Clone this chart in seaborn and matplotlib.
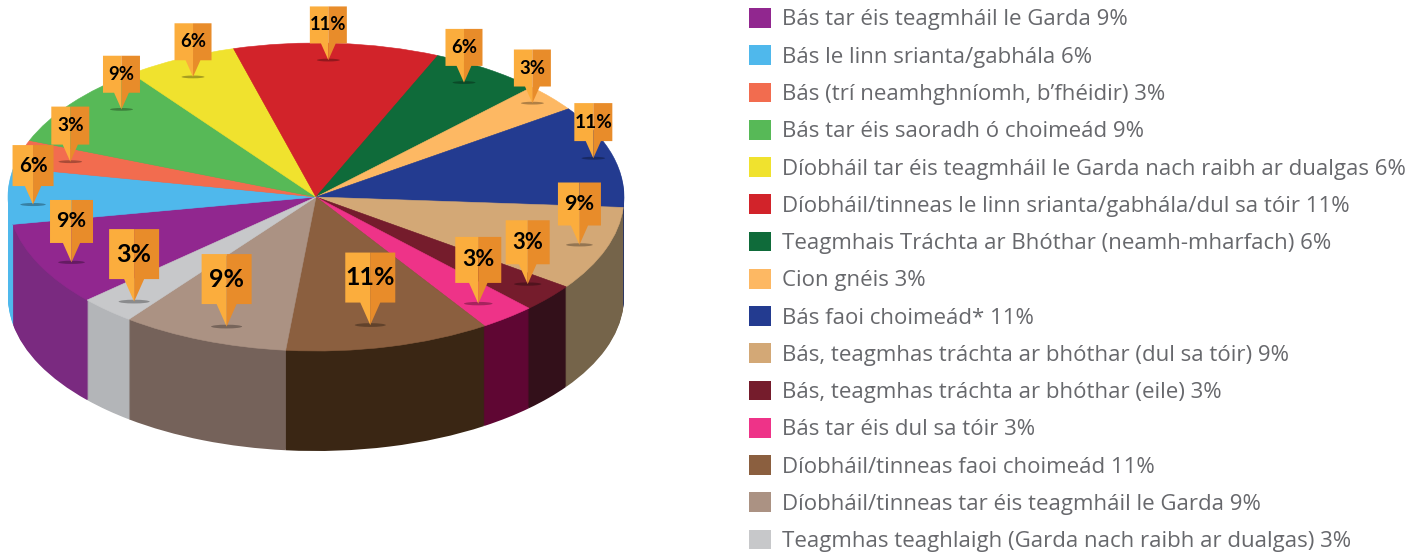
import numpy as np
import matplotlib
matplotlib.use("Agg")
import matplotlib.pyplot as plt
from matplotlib.patches import Patch
from matplotlib.path import Path
import seaborn as sns

labels = [
    "Bás tar éis teagmháil le Garda",
    "Bás le linn srianta/gabhála",
    "Bás (trí neamhghníomh, b’fhéidir)",
    "Bás tar éis saoradh ó choimeád",
    "Díobháil tar éis teagmháil le Garda nach raibh ar dualgas",
    "Díobháil/tinneas le linn srianta/gabhála/dul sa tóir",
    "Teagmhais Tráchta ar Bhóthar (neamh-mharfach)",
    "Cion gnéis",
    "Bás faoi choimeád*",
    "Bás, teagmhas tráchta ar bhóthar (dul sa tóir)",
    "Bás, teagmhas tráchta ar bhóthar (eile)",
    "Bás tar éis dul sa tóir",
    "Díobháil/tinneas faoi choimeád",
    "Díobháil/tinneas tar éis teagmháil le Garda",
    "Teagmhas teaghlaigh (Garda nach raibh ar dualgas)",
]
values = [9, 6, 3, 9, 6, 11, 6, 3, 11, 9, 3, 3, 11, 9, 3]

top_colours = ["#91278F", "#4FB8EC", "#F26C4F", "#57B957", "#F0E22E",
               "#D2232A", "#0F6B3A", "#FDB863", "#233B90", "#D3A876",
               "#751C2C", "#EE3388", "#8B5F3F", "#AB9283", "#C7C8CA"]
side_colours = ["#7A2A80", "#4FB8EC", "#B04A35", "#3C8A3C", "#B0A620",
                "#90181D", "#0A4A28", "#B08545", "#1A2C6C", "#75644A",
                "#33101A", "#5F0633", "#3A2614", "#75625A", "#B3B5B8"]

# how far out along its slice each pin stands, and a small turn off the middle
pin_reach = [.90, .92, .83, .85, .876, .89, .885, .93, .935, .91, .89, .87, .85, .89, .90]
pin_turn = [2, 3.4, .2, -4.6, 1, 1.3, 1, .7, .1, -.2, 1.5, -1.2, -1.8, 2.5, 1.7]
pin_width = [43, 41, 38, 37, 37, 37, 37, 37, 38, 43, 44, 46, 50, 50, 50]

LIGHT = "#FBAD3D"
DARK = "#E88C2A"
CX, CY, R, DEPTH = 316, 197, 308, 100

sns.set_theme(style="white")
plt.rcParams["font.family"] = ["Open Sans", "DejaVu Sans"]

fig = plt.figure(figsize=(14.25, 5.53), dpi=100)
ax = fig.add_axes([0, 0, 624 / 1425, 1])

# y runs at twice the pixel scale so the round pie comes out flattened
for off in range(DEPTH, 0, -1):
    ax.pie(values, colors=side_colours, startangle=222, counterclock=False,
           radius=R, center=(CX, -(CY + off) * 2),
           wedgeprops={"linewidth": 0})
wedges, _ = ax.pie(values, colors=sns.color_palette(top_colours), startangle=222,
                   counterclock=False, radius=R, center=(CX, -CY * 2),
                   wedgeprops={"linewidth": 0.4})
for w in wedges:
    w.set_edgecolor(w.get_facecolor())
ax.set_xlim(0, 624)
ax.set_ylim(-1106, 0)
ax.set_aspect("auto")

mids = np.radians([(w.theta1 + w.theta2) / 2 + t for w, t in zip(wedges, pin_turn)])
tip_x = CX + R * np.array(pin_reach) * np.cos(mids)
tip_y = -CY * 2 + R * np.array(pin_reach) * np.sin(mids)
widths = np.array(pin_width, dtype=float)

# pin markers have their origin at the tip; widths are in pixels
left_half = Path([(0, 0), (-.2, .45), (-.5, .45), (-.5, 1.45), (0, 1.45), (0, 0)])
right_half = Path([(0, 0), (.2, .45), (.5, .45), (.5, 1.45), (0, 1.45), (0, 0)])
circle = Path.unit_circle()
shadow = Path(circle.vertices * [1, .12], circle.codes)

px = 72 / fig.dpi
sns.scatterplot(x=tip_x, y=tip_y, s=(widths * .62 * px) ** 2, marker=shadow, color="black",
                alpha=.3, linewidth=0, ax=ax, legend=False, zorder=3)
sizes = (widths * px * 2.9) ** 2
sns.scatterplot(x=tip_x, y=tip_y, s=sizes, marker=left_half, color=LIGHT,
                linewidth=0, ax=ax, legend=False, zorder=4)
sns.scatterplot(x=tip_x, y=tip_y, s=sizes, marker=right_half, color=DARK,
                linewidth=0, ax=ax, legend=False, zorder=4)

for x, y, w, v in zip(tip_x, tip_y, widths, values):
    ax.annotate(f"{v}%", (x, y), xytext=(0, .95 * w * px), textcoords="offset points",
                ha="center", va="center", fontsize=w * .36, fontweight="bold",
                color="black", family=["Lato", "DejaVu Sans"], zorder=5)

handles = [Patch(facecolor=c, linewidth=0) for c in top_colours]
names = [f"{n} {v}%" for n, v in zip(labels, values)]
fig.legend(handles, names, loc="upper left", bbox_to_anchor=(749 / 1425, 1 - 8 / 553),
           frameon=False, fontsize=16, labelcolor="#67686C", handlelength=.99,
           handleheight=.99, handletextpad=.5, labelspacing=.665, borderpad=0,
           borderaxespad=0)

fig.savefig("out.png", dpi=100)
